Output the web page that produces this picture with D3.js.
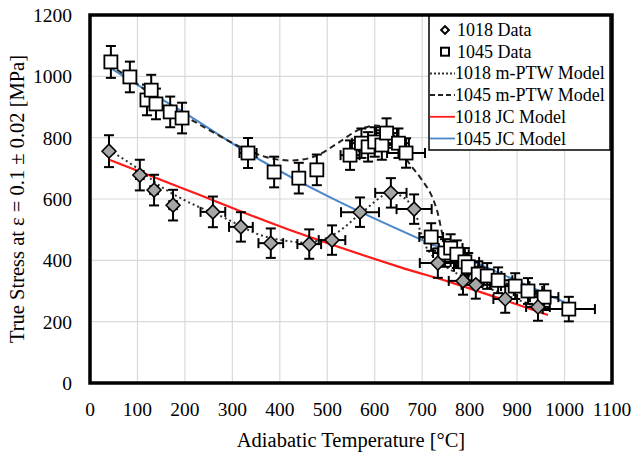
<!DOCTYPE html>
<html>
<head>
<meta charset="utf-8">
<script src="https://d3js.org/d3.v7.min.js"></script>
<style>
  body { margin: 0; background: #fff; }
  text { font-family: "Liberation Serif", "Times New Roman", serif; fill: #000; }
</style>
</head>
<body>
<div id="chart"></div>
<script>
// ---- data ----
const xTicks = [0, 100, 200, 300, 400, 500, 600, 700, 800, 900, 1000, 1100]
const yTicks = [0, 200, 400, 600, 800, 1000, 1200]

// 1045 measured points (temperature, stress, x error, y error)
const t1045 = [44, 84, 120, 129, 139, 169, 194, 333, 388, 440, 478, 548, 572, 586, 600, 615, 625, 650, 666, 719, 748, 760, 773, 790, 797, 818, 837, 860, 896, 923, 957, 1009]
const s1045 = [1047, 998, 923, 955, 910, 884, 864, 750, 688, 668, 695, 743, 782, 770, 786, 776, 815, 782, 750, 476, 424, 440, 420, 395, 379, 355, 349, 335, 316, 300, 280, 241]
const xe1045 = [4, 5, 8, 8, 10, 8, 8, 18, 10, 10, 12, 20, 20, 20, 20, 22, 22, 22, 40, 25, 25, 25, 25, 30, 30, 30, 30, 30, 30, 30, 30, 55]
const ye1045 = [52, 50, 50, 50, 50, 50, 50, 49, 50, 50, 50, 48, 48, 48, 48, 48, 48, 48, 48, 45, 45, 45, 45, 45, 45, 42, 42, 42, 42, 42, 42, 40]

// 1018 measured points
const t1018 = [40, 105, 135, 175, 259, 318, 381, 462, 510, 569, 634, 683, 733, 786, 813, 875, 944]
const s1018 = [756, 678, 629, 580, 558, 509, 456, 453, 466, 557, 620, 567, 391, 333, 320, 274, 248]
const xe1018 = [5, 8, 8, 8, 26, 25, 26, 25, 28, 40, 33, 37, 38, 30, 30, 25, 25]
const ye1018 = [52, 50, 50, 50, 50, 48, 48, 48, 48, 48, 48, 48, 48, 45, 45, 45, 45]

// model curves
const tJC1045 = [44, 100, 200, 333, 500, 700, 800, 1000]
const sJC1045 = [1027, 972, 880, 750, 610, 466, 401, 264]
const tJC1018 = [42, 200, 337, 421, 653, 759, 965]
const sJC1018 = [727, 632, 548, 499, 378, 329, 222]

const tPTW1045 = [40, 100, 150, 200, 333, 390, 440, 480, 520, 570, 612, 645, 668, 695, 717, 731, 742, 752, 780, 830, 900, 960]
const sPTW1045 = [1040, 975, 915, 870, 758, 730, 727, 743, 780, 828, 838, 800, 727, 672, 620, 564, 489, 430, 392, 352, 312, 275]
const tPTW1018 = [40, 100, 150, 211, 280, 358, 421, 470, 520, 570, 632, 665, 685, 695, 712, 740, 790, 850, 950]
const sPTW1018 = [760, 700, 640, 587, 541, 483, 462, 460, 490, 552, 620, 600, 560, 500, 434, 390, 343, 303, 243]

const legendItems = ["1018 Data", "1045 Data", "1018 m-PTW Model", "1045 m-PTW Model", "1018 JC Model", "1045 JC Model"]

const W = 632, H = 457
const red = "#ff1a1a", blue = "#4a86c8"

const svg = d3.select("#chart").append("svg")
  .attr("width", W).attr("height", H)

const x = d3.scaleLinear().domain([0, 1100]).range([90, 612])
const y = d3.scaleLinear().domain([0, 1200]).range([383, 15])

// grid
svg.append("g").selectAll("line.vg").data(xTicks.slice(1, -1)).join("line")
  .attr("x1", d => x(d)).attr("x2", d => x(d))
  .attr("y1", y(0)).attr("y2", y(1200))
  .attr("stroke", "#d9d9d9").attr("stroke-width", 1.2)
svg.append("g").selectAll("line.hg").data(yTicks.slice(1, -1)).join("line")
  .attr("x1", x(0)).attr("x2", x(1100))
  .attr("y1", d => y(d)).attr("y2", d => y(d))
  .attr("stroke", "#d9d9d9").attr("stroke-width", 1.2)

// tick labels
svg.append("g").selectAll("text").data(yTicks).join("text")
  .attr("x", 72).attr("y", d => y(d) + 7)
  .attr("text-anchor", "end").attr("font-size", 19.5)
  .text(d => d)
svg.append("g").selectAll("text").data(xTicks).join("text")
  .attr("x", d => x(d)).attr("y", 416)
  .attr("text-anchor", "middle").attr("font-size", 19.5)
  .text(d => d)

// axis titles
svg.append("text")
  .attr("x", 351).attr("y", 447)
  .attr("text-anchor", "middle").attr("font-size", 20.5)
  .text("Adiabatic Temperature [°C]")
svg.append("text")
  .attr("transform", "translate(24,199) rotate(-90)")
  .attr("text-anchor", "middle").attr("font-size", 20.5)
  .text("True Stress at ε = 0.1 ± 0.02 [MPa]")

// model lines
const line = d3.line().x(d => x(d[0])).y(d => y(d[1])).curve(d3.curveCatmullRom.alpha(0.5))
function model(ts, ss, color, dash, w) {
  svg.append("path")
    .datum(d3.zip(ts, ss))
    .attr("d", line)
    .attr("fill", "none")
    .attr("stroke", color)
    .attr("stroke-width", w)
    .attr("stroke-dasharray", dash)
}
model(tJC1018, sJC1018, red, null, 2.2)
model(tJC1045, sJC1045, blue, null, 2)
model(tPTW1018, sPTW1018, "#333", "2,3", 2)
model(tPTW1045, sPTW1045, "#222", "6,4", 2)

// error bars + markers
function errorBars(ts, ss, xe, ye) {
  const g = svg.append("g").attr("stroke", "#000").attr("stroke-width", 2)
  const pts = d3.range(ts.length).map(i => ({t: ts[i], s: ss[i], xe: xe[i], ye: ye[i]}))
  pts.forEach(p => {
    const cx = x(p.t), cy = y(p.s)
    const y0 = y(p.s - p.ye), y1 = y(p.s + p.ye)
    const x0 = x(p.t - p.xe), x1 = x(p.t + p.xe)
    g.append("line").attr("x1", cx).attr("x2", cx).attr("y1", y0).attr("y2", y1)
    g.append("line").attr("x1", cx - 5).attr("x2", cx + 5).attr("y1", y0).attr("y2", y0)
    g.append("line").attr("x1", cx - 5).attr("x2", cx + 5).attr("y1", y1).attr("y2", y1)
    if (p.xe > 6) {
      g.append("line").attr("x1", x0).attr("x2", x1).attr("y1", cy).attr("y2", cy)
      g.append("line").attr("x1", x0).attr("x2", x0).attr("y1", cy - 5).attr("y2", cy + 5)
      g.append("line").attr("x1", x1).attr("x2", x1).attr("y1", cy - 5).attr("y2", cy + 5)
    }
  })
}
errorBars(t1045, s1045, xe1045, ye1045)
errorBars(t1018, s1018, xe1018, ye1018)

svg.append("g").selectAll("rect").data(d3.zip(t1045, s1045)).join("rect")
  .attr("x", d => x(d[0]) - 6.5).attr("y", d => y(d[1]) - 6.5)
  .attr("width", 13).attr("height", 13)
  .attr("fill", "#fff").attr("stroke", "#000").attr("stroke-width", 1.8)

const diamond = d3.symbol().type(d3.symbolSquare).size(98)
svg.append("g").selectAll("path").data(d3.zip(t1018, s1018)).join("path")
  .attr("d", diamond)
  .attr("transform", d => `translate(${x(d[0])},${y(d[1])}) rotate(45)`)
  .attr("fill", "#a6a6a6").attr("stroke", "#000").attr("stroke-width", 1.5)

// frame
svg.append("rect")
  .attr("x", x(0)).attr("y", y(1200))
  .attr("width", x(1100) - x(0)).attr("height", y(0) - y(1200))
  .attr("fill", "none").attr("stroke", "#000").attr("stroke-width", 3.5)

// legend
const lg = svg.append("g")
lg.append("rect").attr("x", 429).attr("y", 16).attr("width", 181).attr("height", 134)
  .attr("fill", "#fff").attr("stroke", "#000").attr("stroke-width", 1.5)
const rowY = i => 30 + i * 21.7
lg.selectAll("text").data(legendItems).join("text")
  .attr("x", (d, i) => i < 2 ? 457 : 455).attr("y", (d, i) => rowY(i) + 6)
  .attr("font-size", 18)
  .text(d => d)
lg.append("path").attr("d", d3.symbol().type(d3.symbolSquare).size(30))
  .attr("transform", `translate(445,${rowY(0)}) rotate(45)`)
  .attr("fill", "#fff").attr("stroke", "#000").attr("stroke-width", 2)
lg.append("rect").attr("x", 441).attr("y", rowY(1) - 4).attr("width", 8).attr("height", 8)
  .attr("fill", "#fff").attr("stroke", "#000").attr("stroke-width", 2)
const lgLines = [["#333", "2,2", 2], ["#222", "5,3", 2], [red, null, 1.8], [blue, null, 1.8]]
lgLines.forEach((s, i) => {
  lg.append("line").attr("x1", 430).attr("x2", 455)
    .attr("y1", rowY(i + 2)).attr("y2", rowY(i + 2))
    .attr("stroke", s[0]).attr("stroke-dasharray", s[1]).attr("stroke-width", s[2])
})
</script>
</body>
</html>
